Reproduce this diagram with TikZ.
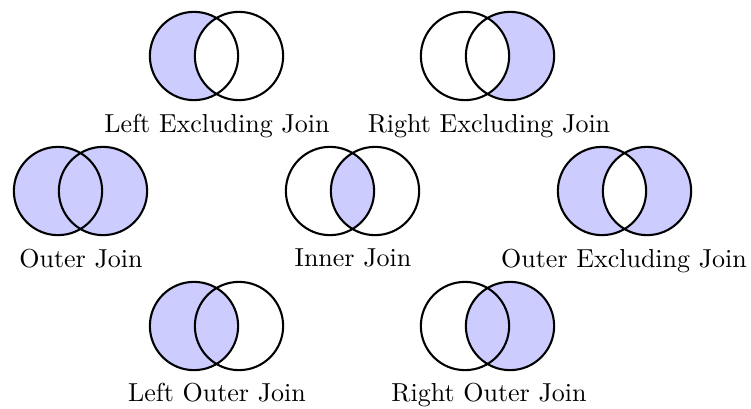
\documentclass[tikz,border=0pt]{standalone}
\usetikzlibrary{positioning}
\begin{document}
\begin{tikzpicture}[x=0.3846pt,y=-0.3846pt,
  venn/.style={circle,draw,thick,minimum size=33.95pt,inner sep=0pt},
  shade/.style={fill=blue!20},
  lbl/.style={anchor=north,inner sep=3.333pt}]
\useasboundingbox (0,0) rectangle (751,408);
\def\r{16.97pt}
% Left Excluding Join
\fill[shade] (194,56) circle[radius=\r];
\fill[white] (239,56) circle[radius=\r];
\node[venn] (le1) at (194,56) {};
\node[venn] (le2) at (239,56) {};
\node[lbl] (lelab) at (217,105) {Left Excluding Join};
% Right Excluding Join
\fill[shade] (510,56) circle[radius=\r];
\fill[white] (465,56) circle[radius=\r];
\node[venn] (re1) at (465,56) {};
\node[venn] (re2) at (510,56) {};
\node[lbl] (relab) at (489,105) {Right Excluding Join};
% Outer Join
\fill[shade] (58,191) circle[radius=\r] (103,191) circle[radius=\r];
\node[venn] (oj1) at (58,191) {};
\node[venn] (oj2) at (103,191) {};
\node[lbl] (ojlab) at (81,240) {Outer Join};
% Inner Join
\begin{scope}
\clip (330,191) circle[radius=\r];
\fill[shade] (375,191) circle[radius=\r];
\end{scope}
\node[venn] (ij1) at (330,191) {};
\node[venn] (ij2) at (375,191) {};
\node[lbl] (ijlab) at (353,240) {Inner Join};
% Outer Excluding Join
\fill[shade,even odd rule] (602,191) circle[radius=\r] (647,191) circle[radius=\r];
\node[venn] (oe1) at (602,191) {};
\node[venn] (oe2) at (647,191) {};
\node[lbl] (oelab) at (624,240) {Outer Excluding Join};
% Left Outer Join
\fill[shade] (194,326) circle[radius=\r];
\node[venn] (lo1) at (194,326) {};
\node[venn] (lo2) at (239,326) {};
\node[lbl] (lolab) at (217,374) {Left Outer Join};
% Right Outer Join
\fill[shade] (510,326) circle[radius=\r];
\node[venn] (ro1) at (465,326) {};
\node[venn] (ro2) at (510,326) {};
\node[lbl] (rolab) at (489,374) {Right Outer Join};
\end{tikzpicture}
\end{document}
